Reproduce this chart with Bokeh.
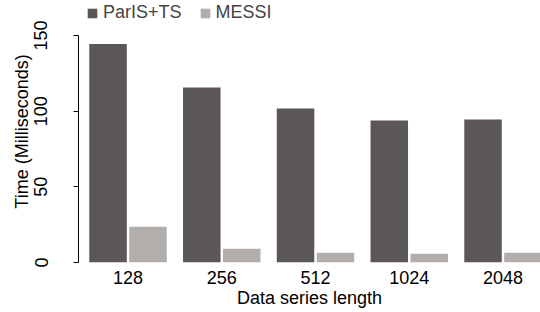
from bokeh.plotting import figure
from bokeh.models import (Range1d, FixedTicker, Legend, LegendItem, Title, ColumnDataSource)
from bokeh.transform import dodge
from bokeh.embed import file_html
from bokeh.resources import INLINE

lengths = ["128", "256", "512", "1024", "2048"]
paris_ts = [144.4, 115.6, 101.7, 93.8, 94.4]
messi = [23.6, 9.1, 6.4, 5.8, 6.4]
y_ticks = [0, 50, 100, 150]

FONT = "Liberation Sans"
FS = "18px"
DARK = "#5b5756"
LIGHT = "#b2aeac"

idx = list(range(len(lengths)))
src = ColumnDataSource(dict(idx=idx, paris=paris_ts, messi=messi, lab=lengths))

p = figure(width=540, height=312, output_backend="svg", toolbar_location=None,
           x_range=Range1d(-0.528, 4.4), y_range=Range1d(0, 173.1),
           min_border_left=78, min_border_right=0, min_border_top=0, min_border_bottom=50)
p.outline_line_color = None
p.grid.visible = False
p.background_fill_color = "white"
p.border_fill_color = "white"

r1 = p.vbar(x=dodge("idx", -0.213, range=p.x_range), top="paris", width=0.4, source=src,
            fill_color=DARK, line_color=None)
r2 = p.vbar(x=dodge("idx", 0.213, range=p.x_range), top="messi", width=0.4, source=src,
            fill_color=LIGHT, line_color=None)

# x axis
xa = p.xaxis[0]
xa.ticker = FixedTicker(ticks=idx)
xa.major_label_overrides = {i: l for i, l in zip(idx, lengths)}
xa.axis_line_color = None
xa.major_tick_line_color = None
xa.minor_tick_line_color = None
xa.major_label_standoff = 2
xa.major_label_text_font = FONT
xa.major_label_text_font_size = FS
xa.major_label_text_color = "black"

# y axis
ya = p.yaxis[0]
ya.ticker = FixedTicker(ticks=y_ticks)
ya.bounds = (0, 150)
ya.axis_line_color = "black"
ya.major_tick_line_color = "black"
ya.major_tick_out = 5
ya.major_tick_in = 0
ya.minor_tick_line_color = None
ya.major_label_orientation = "vertical"
ya.major_label_standoff = 26
ya.major_label_text_font = FONT
ya.major_label_text_font_size = FS
ya.major_label_text_color = "black"

# axis titles
p.add_layout(Title(text="Time (Milliseconds)", align="center", offset=9, standoff=0,
                   text_font=FONT, text_font_size=FS, text_font_style="normal",
                   text_color="black"), "left")
p.add_layout(Title(text="Data series length", align="center", offset=6, standoff=-2,
                   text_font=FONT, text_font_size=FS, text_font_style="normal",
                   text_color="black"), "below")

legend = Legend(items=[LegendItem(label="ParIS+TS", renderers=[r1]),
                       LegendItem(label="MESSI", renderers=[r2])],
                orientation="horizontal", location=(8, 239), padding=0, margin=0,
                border_line_color=None, background_fill_alpha=0,
                glyph_width=12, glyph_height=12, label_standoff=5, spacing=17,
                label_text_font=FONT, label_text_font_size=FS, label_height=20)
p.add_layout(legend, "center")

open("out.html", "w").write(file_html(p, INLINE))
